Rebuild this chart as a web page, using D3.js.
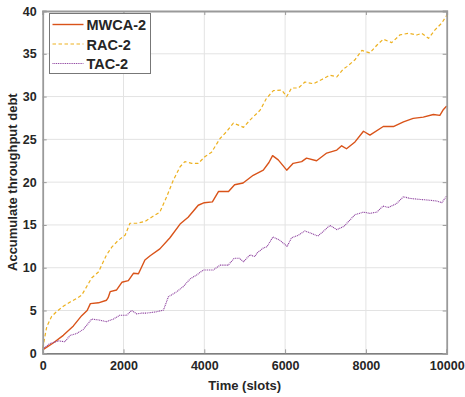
<!DOCTYPE html>
<html>
<head>
<meta charset="utf-8">
<script src="https://cdn.jsdelivr.net/npm/d3@7"></script>
<style>
  body { margin: 0; background: #fff; }
  text { font-family: Arial, "Liberation Sans", sans-serif; font-weight: bold; fill: #262626; }
</style>
</head>
<body>
<div id="chart"></div>
<script>
// values: [slot, debt]
var mwca = [[0,0.4],[260,1.2],[510,2.1],[760,3.2],[965,4.4],[1100,5.0],[1180,5.8],[1380,5.9],[1580,6.2],[1620,6.5],
  [1670,7.2],[1830,7.4],[1960,8.3],[2120,8.5],[2245,9.35],[2370,9.3],[2420,9.8],[2530,10.9],[2660,11.4],[2900,12.2],
  [3150,13.5],[3400,15.1],[3600,15.9],[3850,17.3],[4000,17.6],[4200,17.7],[4350,18.9],[4600,18.9],[4750,19.7],[4960,19.9],
  [5210,20.8],[5460,21.4],[5600,22.3],[5690,23.1],[5830,22.6],[6040,21.4],[6200,22.2],[6410,22.4],[6530,22.8],[6780,22.5],
  [7030,23.4],[7280,23.75],[7400,24.25],[7520,23.9],[7730,24.7],[7940,25.95],[8100,25.5],[8430,26.5],[8680,26.5],[8930,27.05],
  [9170,27.45],[9420,27.6],[9670,27.9],[9830,27.8],[9920,28.5],[10000,28.9]]

var rac = [[0,0.6],[100,3.1],[220,4.3],[350,4.9],[510,5.5],[680,6.0],[840,6.4],[965,6.8],[1090,7.8],[1210,8.8],
  [1380,9.5],[1460,10.3],[1580,11.5],[1710,12.4],[1870,13.2],[2040,13.8],[2160,15.2],[2330,15.2],[2530,15.4],[2660,15.8],
  [2900,16.5],[3070,18.3],[3230,20.2],[3400,21.8],[3520,22.4],[3690,22.2],[3850,22.2],[4020,23.0],[4180,23.5],[4390,25.1],
  [4550,25.9],[4720,26.9],[4880,26.6],[4970,26.4],[5130,27.25],[5380,28.4],[5540,29.8],[5710,30.7],[5920,30.75],[6040,30.0],
  [6160,31.0],[6330,31.0],[6490,31.7],[6700,31.5],[6910,32.0],[7110,32.5],[7280,32.3],[7440,33.2],[7530,33.5],[7730,34.3],
  [7900,35.4],[8100,35.1],[8270,36.0],[8430,36.7],[8640,36.3],[8840,37.2],[9050,37.4],[9260,37.2],[9380,37.4],[9550,36.8],
  [9710,37.8],[9880,38.6],[10000,39.5]]

var tac = [[0,0.5],[180,1.15],[390,1.45],[550,1.35],[680,2.1],[840,2.3],[1005,2.8],[1130,3.5],[1210,4.0],[1380,3.9],
  [1580,3.7],[1750,4.0],[1910,4.45],[2080,4.45],[2200,5.0],[2330,4.6],[2450,4.7],[2570,4.7],[2820,4.85],[2990,5.06],
  [3110,6.6],[3320,7.2],[3480,7.8],[3650,8.7],[3810,9.15],[3975,9.73],[4220,9.73],[4390,10.3],[4590,10.3],[4740,11.1],
  [4870,11.1],[4970,10.7],[5130,11.5],[5255,11.3],[5300,11.7],[5460,12.3],[5550,12.45],[5700,13.6],[5870,13.2],[6050,12.5],
  [6160,13.5],[6330,13.8],[6490,14.3],[6660,14.0],[6810,13.7],[6946,14.25],[7110,14.95],[7280,14.45],[7460,14.85],[7730,16.2],
  [7940,16.5],[8100,16.35],[8270,16.5],[8420,17.2],[8555,17.05],[8760,17.5],[8930,18.3],[9090,18.1],[9300,18.0],[9545,17.9],
  [9750,17.8],[9880,17.6],[10000,18.4]]

var seriesNames = ['MWCA-2', 'RAC-2', 'TAC-2']
var xTicks = [0, 2000, 4000, 6000, 8000, 10000]
var yTicks = [0, 5, 10, 15, 20, 25, 30, 35, 40]

var W = 465, H = 397
var margin = {top: 11, right: 18.3, bottom: 43.7, left: 42.7}
var iw = W - margin.left - margin.right,
	ih = H - margin.top - margin.bottom

var svg = d3.select('#chart').append('svg')
	.attr('width', W)
	.attr('height', H)

var g = svg.append('g')
	.attr('transform', 'translate(' + margin.left + ',' + margin.top + ')')

var x = d3.scaleLinear().domain([0, 10000]).range([0, iw])
var y = d3.scaleLinear().domain([0, 40]).range([ih, 0])

// grid
g.selectAll('.gx').data(xTicks.slice(1, -1)).enter().append('line')
	.attr('x1', function(d){ return x(d) }).attr('x2', function(d){ return x(d) })
	.attr('y1', 0).attr('y2', ih)
	.attr('stroke', '#e3e3e3').attr('stroke-width', 1)
g.selectAll('.gy').data(yTicks.slice(1, -1)).enter().append('line')
	.attr('y1', function(d){ return y(d) }).attr('y2', function(d){ return y(d) })
	.attr('x1', 0).attr('x2', iw)
	.attr('stroke', '#e3e3e3').attr('stroke-width', 1)

// lines
var styles = [
	{data: mwca, color: '#D95319', width: 1.4, dash: null},
	{data: rac, color: '#EDB120', width: 1.2, dash: '3.5,2.5'},
	{data: tac, color: '#8A3C9C', width: 1.1, dash: '1,0.8'}
]
var line = d3.line()
	.x(function(d){ return x(d[0]) })
	.y(function(d){ return y(d[1]) })

styles.forEach(function(s){
	g.append('path')
		.datum(s.data)
		.attr('d', line)
		.attr('fill', 'none')
		.attr('stroke', s.color)
		.attr('stroke-width', s.width)
		.attr('stroke-dasharray', s.dash)
		.attr('stroke-linejoin', 'round')
})

// axes, MATLAB-ish box with inward ticks
var xAxis = g.append('g')
	.attr('transform', 'translate(0,' + ih + ')')
	.call(d3.axisBottom(x).tickValues(xTicks).tickSize(-4).tickPadding(8).tickFormat(d3.format('d')))
var yAxis = g.append('g')
	.call(d3.axisLeft(y).tickValues(yTicks).tickSize(-4).tickPadding(6))
g.append('g')
	.call(d3.axisTop(x).tickValues(xTicks).tickSize(-4).tickFormat(''))
g.append('g')
	.attr('transform', 'translate(' + iw + ',0)')
	.call(d3.axisRight(y).tickValues(yTicks).tickSize(-4).tickFormat(''))

g.selectAll('.domain').attr('stroke', '#9a9a9a').attr('stroke-width', 1.8)
g.selectAll('.tick line').attr('stroke', '#9a9a9a')
xAxis.select('.domain').attr('stroke', '#555').attr('stroke-width', 1.2)
g.selectAll('.tick text')
	.style('font-family', 'Arial, "Liberation Sans", sans-serif')
	.style('font-weight', 'bold')
	.style('font-size', '12.5px')
	.attr('fill', '#262626')

// labels
svg.append('text')
	.attr('x', margin.left + iw / 2)
	.attr('y', 390)
	.attr('text-anchor', 'middle')
	.style('font-size', '13px')
	.text('Time (slots)')

svg.append('text')
	.attr('transform', 'translate(17,' + (margin.top + ih / 2) + ') rotate(-90)')
	.attr('text-anchor', 'middle')
	.style('font-size', '13px')
	.text('Accumulate throughput debt')

// legend
var leg = svg.append('g').attr('transform', 'translate(49.5,13.5)')
leg.append('rect')
	.attr('width', 101).attr('height', 60)
	.attr('fill', '#fff').attr('stroke', '#777').attr('stroke-width', 1)

var rows = leg.selectAll('.row').data(styles).enter().append('g')
	.attr('transform', function(d, i){ return 'translate(0,' + (11 + i * 19.5) + ')' })
rows.append('line')
	.attr('x1', 3).attr('x2', 34)
	.attr('stroke', function(d){ return d.color })
	.attr('stroke-width', function(d){ return d.width })
	.attr('stroke-dasharray', function(d){ return d.dash })
rows.append('text')
	.attr('x', 37).attr('y', 5.5)
	.style('font-size', '14.5px')
	.text(function(d, i){ return seriesNames[i] })
</script>
</body>
</html>
